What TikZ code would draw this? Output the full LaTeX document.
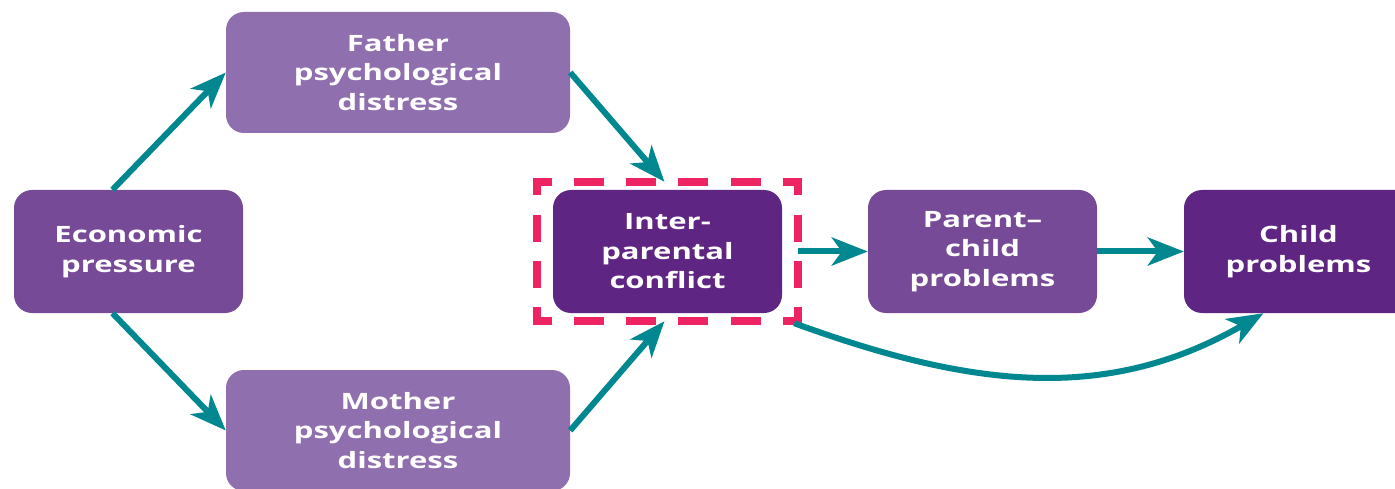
\documentclass[tikz,border=0pt]{standalone}
\usepackage{fontspec}
\newfontfamily\boxfont{Open Sans}[FakeStretch=1.38]
\usetikzlibrary{arrows.meta}
\definecolor{lightpurple}{HTML}{8F6FAE}
\definecolor{midpurple}{HTML}{774A98}
\definecolor{darkpurple}{HTML}{5E2582}
\definecolor{linkteal}{HTML}{00878F}
\definecolor{focuspink}{HTML}{EE2362}

\begin{document}
\begin{tikzpicture}[x=1pt, y=-1pt,
  box/.style={rounded corners=18pt, text=white, align=center, inner sep=0pt,
    minimum width=229pt, minimum height=123pt,
    font=\boxfont\bfseries\fontsize{22.5}{29.5}\selectfont},
  widebox/.style={box, minimum width=344pt, minimum height=121pt},
  link/.style={linkteal, line width=6pt,
    -{Stealth[length=36pt,width=28pt,inset=10pt]}},
  focusline/.style={focuspink, line width=8pt, line cap=rect}]
  \useasboundingbox (0,0) rectangle (1395,489);
  \clip (0,0) rectangle (1395,489);
  \fill[white] (0,0) rectangle (1395,489);

  % boxes
  \node[box, fill=midpurple] (econ) at (128.5,251.5) {Economic\\pressure};
  \node[widebox, fill=lightpurple] (father) at (398,72.5) {Father\\psychological\\distress};
  \node[widebox, fill=lightpurple] (mother) at (398,430.5) {Mother\\psychological\\distress};
  \node[box, fill=darkpurple] (inter) at (667.5,251.5) {Inter-\\parental\\conflict};
  \node[box, fill=midpurple] (pc) at (982.5,251.5) {Parent–\\child\\problems};
  \node[box, fill=darkpurple] (child) at (1298.5,251.5) {Child\\problems};

  % dashed frame round the conflict box
  \node[minimum width=261pt, minimum height=139pt, inner sep=0pt] (focus) at (inter) {};
  \draw[focusline, dash pattern=on 22pt off 30.2pt, dash phase=11pt] (focus.north west) -- (focus.north east);
  \draw[focusline, dash pattern=on 22pt off 30.2pt, dash phase=11pt] (focus.south west) -- (focus.south east);
  \draw[focusline, dash pattern=on 19pt off 27.33pt, dash phase=9.5pt] (focus.north west) -- (focus.south west);
  \draw[focusline, dash pattern=on 19pt off 27.33pt, dash phase=9.5pt] (focus.north east) -- (focus.south east);

  % arrows
  \draw[link] ([xshift=-16pt]econ.north) -- (father.west);
  \draw[link] ([xshift=-16pt]econ.south) -- (mother.west);
  \draw[link] (father.east) -- ([xshift=-3pt]focus.north);
  \draw[link] (mother.east) -- ([xshift=-3pt]focus.south);
  \draw[link] (focus.east) -- (pc.west);
  \draw[link] (pc.east) -- (child.west);
  \draw[link] ([shift={(-4pt,-2pt)}]focus.south east) to[out=-20, in=210] ([xshift=-35pt]child.south);
\end{tikzpicture}
\end{document}
